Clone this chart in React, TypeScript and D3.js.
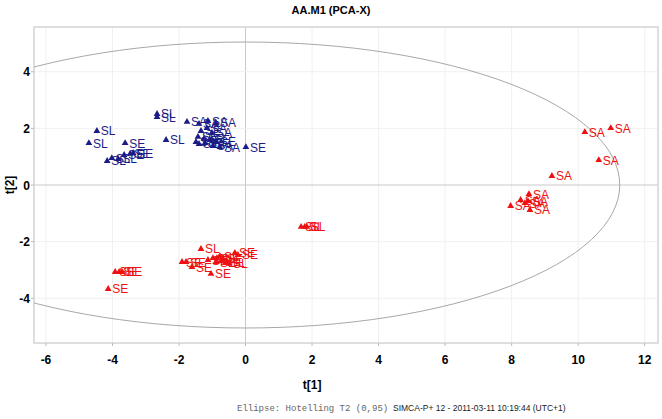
import React from "react";
import * as d3 from "d3";

const title = "AA.M1 (PCA-X)";
const xTicks = [-6, -4, -2, 0, 2, 4, 6, 8, 10, 12];
const yTicks = [-4, -2, 0, 2, 4];
const xDomain = [-6.36, 12.4];
const yDomain = [-5.58, 5.58];
const ellipseAxes = [11.25, 5.05];

// blue class points [t1, t2, label]
const bluePoints: [number, number, string][] = [
  [-2.66, 2.51, "SL"], [-2.66, 2.4, "SL"], [-1.76, 2.23, "SA"], [-1.4, 2.16, "SA"],
  [-1.13, 2.26, "SA"], [-0.89, 2.19, "SA"], [-1.34, 1.91, "SE"], [-1.16, 2.01, "SA"],
  [-1.01, 1.84, "SA"], [-1.43, 1.7, "SE"], [-1.25, 1.63, "SE"], [-1.07, 1.59, "SE"],
  [-0.89, 1.55, "SE"], [-1.4, 1.45, "SE"], [-1.22, 1.48, "SA"], [-0.98, 1.38, "SA"],
  [-0.77, 1.34, "SA"], [-1.49, 1.52, "SA"], [-2.39, 1.59, "SL"], [0.01, 1.34, "SE"],
  [-4.47, 1.91, "SL"], [-4.71, 1.48, "SL"], [-3.62, 1.48, "SE"], [-4.16, 0.85, "SL"],
  [-4.02, 0.95, "SL"], [-3.83, 0.92, "SL"], [-3.65, 1.06, "SE"], [-3.47, 1.1, "SE"],
  [-3.38, 1.13, "SE"],
];

// red class points [t1, t2, label]
const redPoints: [number, number, string][] = [
  [10.2, 1.87, "SA"], [10.98, 2.01, "SA"], [10.62, 0.88, "SA"], [9.21, 0.32, "SA"],
  [8.52, -0.32, "SA"], [8.27, -0.53, "SA"], [7.97, -0.74, "SA"], [8.49, -0.57, "SA"],
  [8.55, -0.88, "SA"], [8.4, -0.64, "SA"],
  [1.67, -1.48, "SL"], [1.78, -1.48, "SL"], [1.84, -1.48, "SL"],
  [-1.34, -2.26, "SL"], [-1.91, -2.72, "SE"], [-1.79, -2.72, "SE"], [-1.61, -2.9, "SE"],
  [-1.04, -3.14, "SE"], [-1.13, -2.65, "SE"], [-0.98, -2.58, "SL"], [-0.86, -2.58, "SE"],
  [-0.77, -2.51, "SL"], [-0.68, -2.61, "SE"], [-0.59, -2.72, "SL"], [-0.5, -2.76, "SL"],
  [-0.32, -2.4, "SE"], [-0.23, -2.47, "SE"], [-0.89, -2.72, "SE"], [-0.74, -2.69, "SL"],
  [-4.13, -3.67, "SE"], [-3.92, -3.07, "SE"], [-3.8, -3.07, "SE"], [-3.71, -3.07, "SE"],
];

const xLabel = "t[1]";
const yLabel = "t[2]";
const footLeft = "Ellipse: Hotelling T2 (0,95)";
const footRight = "SIMCA-P+ 12 - 2011-03-11 10:19:44 (UTC+1)";

const BLUE = "#1c1c86";
const RED = "#ee1111";

export default function App() {
  const W = 662, H = 419;
  const L = 34, R = 658, T = 27, B = 343;
  const x = d3.scaleLinear().domain(xDomain).range([L, R]);
  const y = d3.scaleLinear().domain(yDomain).range([B, T]);
  const tri = d3.symbol(d3.symbolTriangle, 20)() as string;
  const font = "'Liberation Sans', Arial, sans-serif";

  const renderPts = (pts: [number, number, string][], color: string, key: string) =>
    pts.map((p, i) => (
      <g key={key + i} transform={`translate(${x(p[0])},${y(p[1])})`}>
        <path d={tri} fill={color} />
        <text x={4} y={4.5} fill={color} fontSize={12} fontFamily={font}>
          {p[2]}
        </text>
      </g>
    ));

  return (
    <svg width={W} height={H} style={{ position: "absolute", left: 0, top: 0, background: "#fff" }}>
      <defs>
        <clipPath id="plotclip">
          <rect x={L} y={T} width={R - L} height={B - T} />
        </clipPath>
      </defs>
      <text x={331} y={14} textAnchor="middle" fontSize={11} fontWeight="bold" fontFamily={font}>
        {title}
      </text>
      {/* grid */}
      {xTicks.map((t) => (
        <line key={"gx" + t} x1={x(t)} x2={x(t)} y1={T} y2={B} stroke={t === 0 ? "#c8c8c8" : "#f0f0f0"} strokeWidth={1} />
      ))}
      {yTicks.map((t) => (
        <line key={"gy" + t} x1={L} x2={R} y1={y(t)} y2={y(t)} stroke={t === 0 ? "#c8c8c8" : "#f0f0f0"} strokeWidth={1} />
      ))}
      {/* frame */}
      <rect x={L} y={T} width={R - L} height={B - T} fill="none" stroke="#d4d4d4" strokeWidth={1.5} />
      {/* ellipse */}
      <g clipPath="url(#plotclip)">
        <ellipse
          cx={x(0)}
          cy={y(0)}
          rx={x(ellipseAxes[0]) - x(0)}
          ry={y(0) - y(ellipseAxes[1])}
          fill="none"
          stroke="#a8a8a8"
          strokeWidth={1}
        />
      </g>
      {/* ticks */}
      {xTicks.map((t) => (
        <g key={"tx" + t}>
          <line x1={x(t)} x2={x(t)} y1={B} y2={B + 3} stroke="#bbb" />
          <text x={x(t)} y={364} textAnchor="middle" fontSize={12} fontWeight="bold" fontFamily={font}>
            {t}
          </text>
        </g>
      ))}
      {yTicks.map((t) => (
        <g key={"ty" + t}>
          <line x1={L - 3} x2={L} y1={y(t)} y2={y(t)} stroke="#bbb" />
          <text x={30} y={y(t) + 4.5} textAnchor="end" fontSize={12} fontWeight="bold" fontFamily={font}>
            {t}
          </text>
        </g>
      ))}
      <text x={x(2)} y={389} textAnchor="middle" fontSize={12} fontWeight="bold" fontFamily={font}>
        {xLabel}
      </text>
      <text transform={`translate(14,${y(0)}) rotate(-90)`} textAnchor="middle" fontSize={12} fontWeight="bold" fontFamily={font}>
        {yLabel}
      </text>
      {/* points */}
      {renderPts(bluePoints, BLUE, "b")}
      {renderPts(redPoints, RED, "r")}
      {/* footer */}
      <text x={237} y={411} fontSize={9} fontFamily="'Liberation Mono', 'Courier New', monospace" fill="#666">
        {footLeft}
      </text>
      <text x={393} y={411} fontSize={8.5} fontFamily={font} fill="#222">
        {footRight}
      </text>
    </svg>
  );
}
